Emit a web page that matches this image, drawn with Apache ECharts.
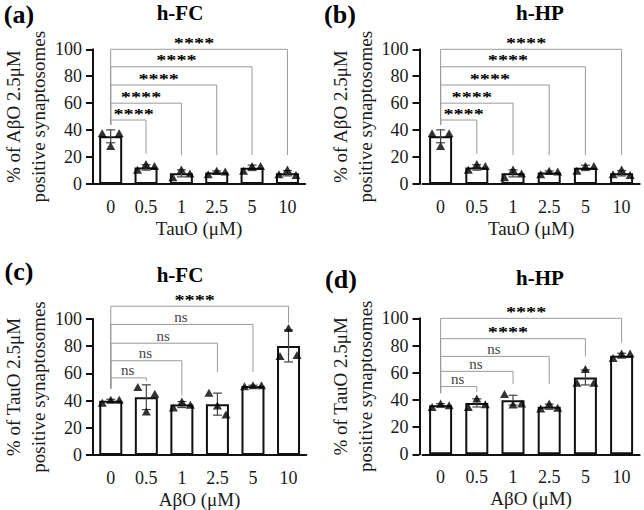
<!DOCTYPE html>
<html>
<head>
<meta charset="utf-8">
<script src="https://cdn.jsdelivr.net/npm/echarts@6/dist/echarts.min.js"></script>
<style>
  html, body { margin: 0; padding: 0; background: #fff; }
  #chart { width: 644px; height: 510px; }
</style>
</head>
<body>
<div id="chart"></div>
<script>
// doses on the x axis
const tauDoses = ['0', '0.5', '1', '2.5', '5', '10'];
const abDoses = ['0', '0.5', '1', '2.5', '5', '10'];

// (a) h-FC and (b) h-HP : % AβO positive synaptosomes vs TauO
const meansA = [35.4, 12.3, 7.9, 8.5, 12.0, 8.0];
const sdA = [4.8, 2.0, 2.6, 1.2, 2.0, 2.0];
const pointsA = [[37.6, 28.2, 37.6], [10.5, 14.8, 13.4], [5.0, 10.8, 7.8], [7.2, 9.8, 9.2], [9.8, 13.4, 13.4], [7.2, 10.8, 6.6]];
const meansB = [35.4, 12.3, 7.9, 8.5, 12.0, 8.0];
const sdB = [4.8, 2.0, 2.6, 1.2, 2.0, 2.0];
const pointsB = [[37.6, 28.2, 37.6], [10.5, 14.8, 13.4], [5.0, 10.8, 7.8], [7.2, 9.8, 9.2], [9.8, 13.4, 13.4], [7.2, 10.8, 6.6]];

// (c) h-FC and (d) h-HP : % TauO positive synaptosomes vs AβO
const meansC = [39.8, 42.5, 37.1, 37.4, 50.8, 80.2];
const sdC = [1.2, 9.1, 2.2, 8.1, 0.5, 11.8];
const pointsC = [[38.4, 40.6, 40.6], [50.0, 32.0, 45.0], [35.0, 39.4, 36.9], [45.8, 36.4, 29.7], [50.5, 51.2, 51.2], [72.8, 93.3, 73.5]];
const meansD = [36.0, 37.8, 39.8, 35.0, 56.5, 72.5];
const sdD = [1.2, 3.0, 3.6, 1.9, 5.5, 1.8];
const pointsD = [[34.8, 37.3, 36.0], [34.8, 41.0, 36.8], [44.3, 36.6, 37.3], [33.6, 37.3, 34.3], [52.7, 62.7, 52.7], [70.9, 74.1, 74.1]];

// comparison brackets (always from dose 0 to dose index in bracketEnds)
const bracketEnds = [1, 2, 3, 4, 5];
const bracketHeightsA = [47.5, 60, 73.5, 87, 100];
const bracketDropsA = [22.5, 21.5, 21.5, 21.5, 21.5];
const bracketLabelsA = ['****', '****', '****', '****', '****'];
const bracketHeightsB = [47.5, 60, 73.5, 87, 100];
const bracketDropsB = [22.5, 21.5, 21.5, 21.5, 21.5];
const bracketLabelsB = ['****', '****', '****', '****', '****'];
const bracketHeightsC = [56.7, 69.3, 82.2, 96, 109.4];
const bracketDropsC = [54.5, 43.8, 61, 61, 97];
const bracketLabelsC = ['ns', 'ns', 'ns', 'ns', '****'];
const bracketHeightsD = [49.8, 61, 72, 85, 100];
const bracketDropsD = [46, 51.8, 51.8, 72, 82];
const bracketLabelsD = ['ns', 'ns', 'ns', '****', '****'];
const bracketBase = [44, 44, 48.8, 45];

const SERIF = '"Liberation Serif", "Times New Roman", serif';
const INK = '#1a1a1a';

const panels = [
  { letter: '(a)', title: 'h-FC', cats: tauDoses, xName: 'TauO (μM)', yName: '% of AβO 2.5μM\npositive synaptosomes',
    means: meansA, sd: sdA, pts: pointsA, bh: bracketHeightsA, bd: bracketDropsA, bl: bracketLabelsA,
    grid: { left: 88.7, top: 49.3, width: 216.4, height: 134.7 }, yOff: 0, letterPos: [19, 14], titlePos: [180, 13] },
  { letter: '(b)', title: 'h-HP', cats: tauDoses, xName: 'TauO (μM)', yName: '% of AβO 2.5μM\npositive synaptosomes',
    means: meansB, sd: sdB, pts: pointsB, bh: bracketHeightsB, bd: bracketDropsB, bl: bracketLabelsB,
    grid: { left: 422.5, top: 49.3, width: 217.2, height: 134.7 }, yOff: 3, letterPos: [340, 14], titlePos: [540, 13] },
  { letter: '(c)', title: 'h-FC', cats: abDoses, xName: 'AβO (μM)', yName: '% of TauO 2.5μM\npositive synaptosomes',
    means: meansC, sd: sdC, pts: pointsC, bh: bracketHeightsC, bd: bracketDropsC, bl: bracketLabelsC,
    grid: { left: 88.5, top: 319, width: 217.8, height: 136 }, yOff: 0, letterPos: [19, 271], titlePos: [180, 275] },
  { letter: '(d)', title: 'h-HP', cats: abDoses, xName: 'AβO (μM)', yName: '% of TauO 2.5μM\npositive synaptosomes',
    means: meansD, sd: sdD, pts: pointsD, bh: bracketHeightsD, bd: bracketDropsD, bl: bracketLabelsD,
    grid: { left: 422.5, top: 318.3, width: 217.2, height: 136 }, yOff: 3, letterPos: [341, 279], titlePos: [540, 278] }
];

const chart = echarts.init(document.getElementById('chart'), null, { renderer: 'svg' });

const grids = [], xAxes = [], yAxes = [], series = [], graphics = [];

panels.forEach((p, i) => {
  grids.push(p.grid);
  xAxes.push({
    type: 'category', gridIndex: i, data: p.cats,
    name: p.xName, nameLocation: 'middle', nameGap: 35,
    nameTextStyle: { fontFamily: SERIF, fontSize: 19, color: INK },
    axisLine: { lineStyle: { color: '#111', width: 2 } },
    axisTick: { alignWithLabel: true, length: 8, lineStyle: { color: '#111', width: 2 } },
    axisLabel: { fontFamily: SERIF, fontSize: 18, color: INK, margin: 14 }
  });
  yAxes.push({
    type: 'value', gridIndex: i, min: 0, max: 100, interval: 20, offset: p.yOff,
    name: p.yName, nameLocation: 'middle', nameGap: 42,
    nameTextStyle: { fontFamily: SERIF, fontSize: 19, color: INK, lineHeight: 25 },
    axisLine: { show: true, lineStyle: { color: '#111', width: 2 } },
    axisTick: { show: true, length: 7, lineStyle: { color: '#111', width: 2 } },
    axisLabel: { fontFamily: SERIF, fontSize: 18, color: INK, margin: 11 },
    splitLine: { show: false }
  });

  series.push({
    type: 'bar', xAxisIndex: i, yAxisIndex: i, data: p.means, barWidth: 23,
    itemStyle: { color: '#fff', borderColor: '#111', borderWidth: 2 },
    silent: true, z: 2
  });

  // mean ± SD error bars
  series.push({
    type: 'custom', xAxisIndex: i, yAxisIndex: i, z: 3, silent: true,
    data: p.means.map((m, k) => [k, m, p.sd[k]]),
    encode: { x: 0, y: 1 },
    renderItem(params, api) {
      const k = api.value(0), m = api.value(1), s = api.value(2);
      const top = api.coord([k, m + s]);
      const bot = api.coord([k, m - s]);
      const st = { stroke: '#444', lineWidth: 1.2 };
      return {
        type: 'group',
        children: [
          { type: 'line', shape: { x1: top[0], y1: top[1], x2: bot[0], y2: bot[1] }, style: st },
          { type: 'line', shape: { x1: top[0] - 4.5, y1: top[1], x2: top[0] + 4.5, y2: top[1] }, style: st },
          { type: 'line', shape: { x1: bot[0] - 4.5, y1: bot[1], x2: bot[0] + 4.5, y2: bot[1] }, style: st }
        ]
      };
    }
  });

  // individual replicates, jittered left / centre / right
  const scatterData = [];
  p.pts.forEach((trip, k) => {
    trip.forEach((v, j) => {
      scatterData.push({ value: [k, v], symbolOffset: [(j - 1) * 8.5, 0] });
    });
  });
  series.push({
    type: 'scatter', xAxisIndex: i, yAxisIndex: i, data: scatterData,
    symbol: 'triangle', symbolSize: [9, 8], itemStyle: { color: '#000' }, z: 4, silent: true
  });

  // significance brackets; star labels are drawn narrow-bodied and stretched
  // sideways so the stacked labels keep the reference width without colliding
  const base = bracketBase[i];
  series.push({
    type: 'custom', xAxisIndex: i, yAxisIndex: i, z: 5, silent: true, clip: false,
    data: bracketEnds.map((e, k) => [0, e, p.bh[k], p.bd[k]]),
    encode: { x: 0, y: 2 },
    renderItem(params, api) {
      const e = api.value(1), h = api.value(2), d = api.value(3);
      const label = p.bl[params.dataIndex];
      const a0 = api.coord([0, base]);
      const a1 = api.coord([0, h]);
      const b1 = api.coord([e, h]);
      const b0 = api.coord([e, d]);
      const stars = label === '****';
      let cx = (a1[0] + b1[0]) / 2 - (stars ? 5 : 1);
      const half = stars ? 20 : 7;
      if (cx - half < a1[0] + 3) cx = a1[0] + 3 + half;
      return {
        type: 'group',
        children: [
          { type: 'polyline', shape: { points: [a0, a1, b1, b0] }, style: { stroke: '#9a9a9a', lineWidth: 1, fill: 'none' } },
          { type: 'text', x: cx, y: a1[1] - (stars ? 6.5 : 7.5), scaleX: stars ? 1.35 : 1,
            style: {
              text: label, x: 0, y: 0,
              align: 'center', verticalAlign: 'middle',
              font: (stars ? 'bold 15px ' : '15px ') + SERIF,
              fill: stars ? '#000' : '#444'
            } }
        ]
      };
    }
  });

  graphics.push({
    type: 'text', x: p.letterPos[0], y: p.letterPos[1],
    style: { text: p.letter, font: 'bold 26px ' + SERIF, fill: '#000', align: 'center', verticalAlign: 'middle' }
  });
  graphics.push({
    type: 'text', x: p.titlePos[0], y: p.titlePos[1],
    style: { text: p.title, font: 'bold 21px ' + SERIF, fill: '#000', align: 'center', verticalAlign: 'middle' }
  });
});

chart.setOption({
  backgroundColor: '#fff',
  animation: false,
  grid: grids,
  xAxis: xAxes,
  yAxis: yAxes,
  series: series,
  graphic: graphics
});
</script>
</body>
</html>
